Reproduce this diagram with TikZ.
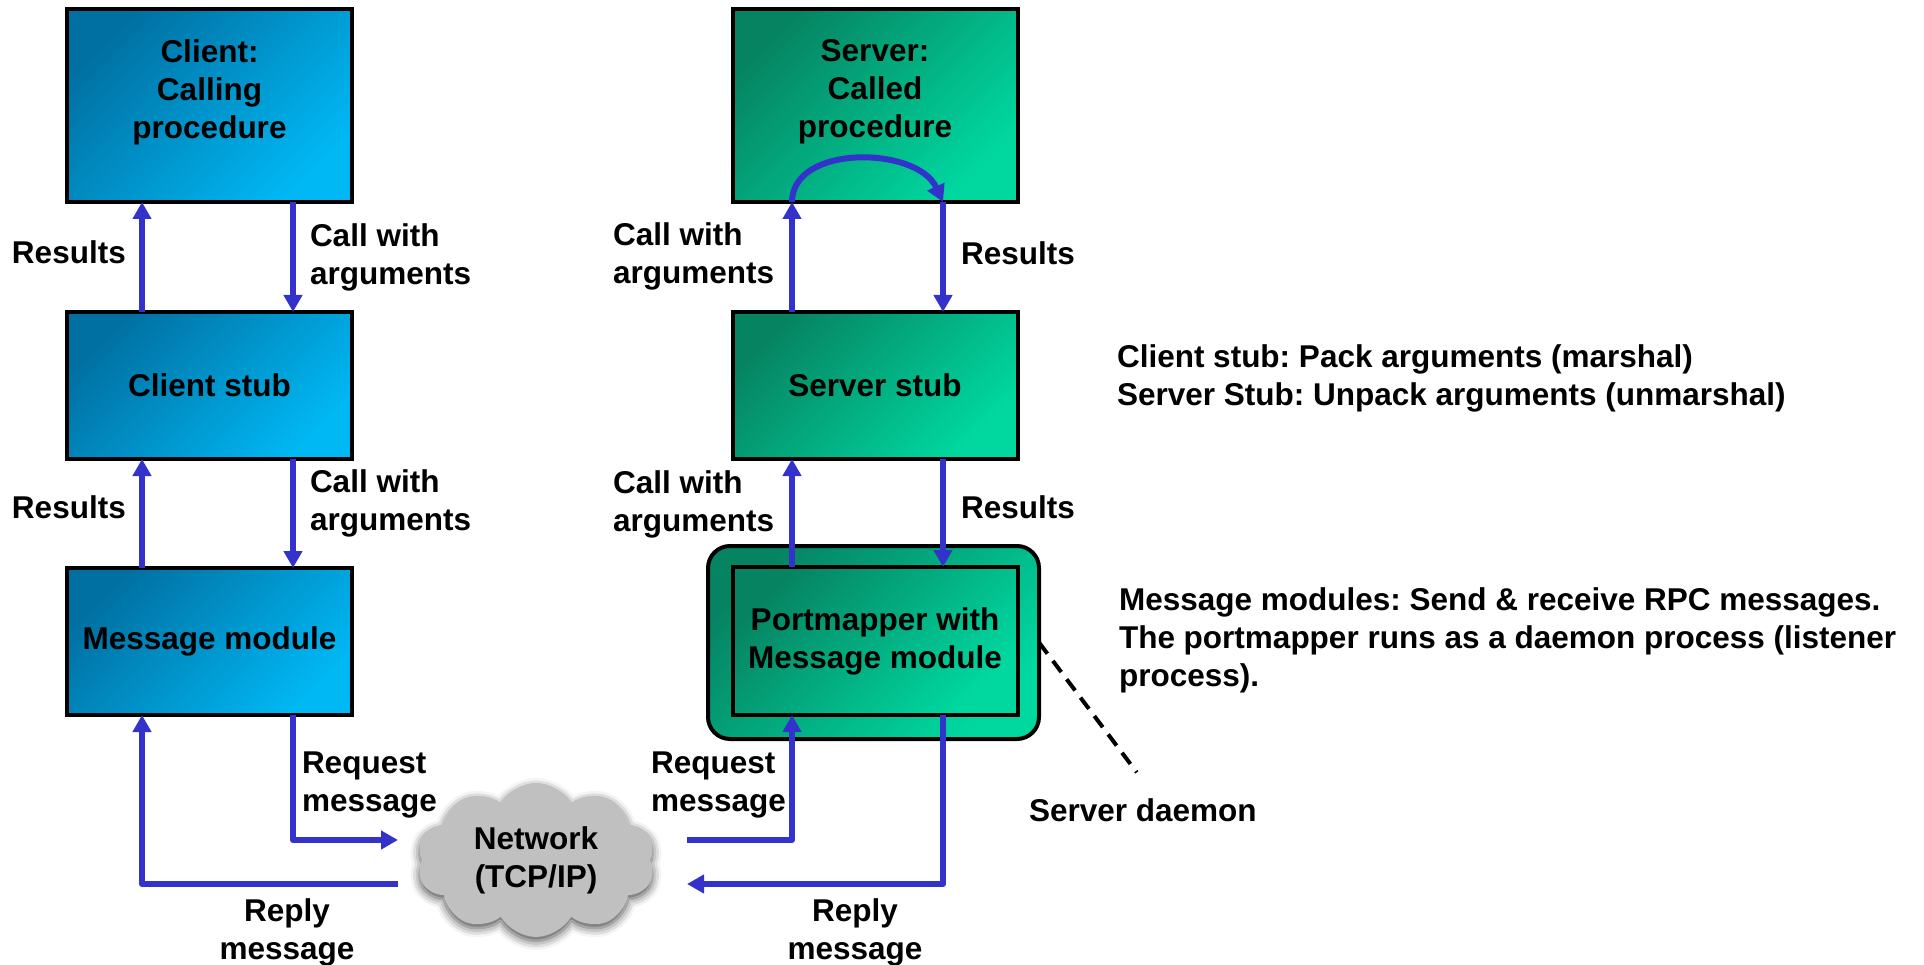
\documentclass[tikz,border=0pt]{standalone}
\usepackage{fontspec}
\setmainfont{Liberation Sans}
\frenchspacing
\newcommand*{\rpcfont}{\bfseries\fontsize{31.5}{38}\selectfont}
\definecolor{CD}{RGB}{0,112,162}
\definecolor{CL}{RGB}{0,184,244}
\definecolor{SD}{RGB}{6,132,98}
\definecolor{SL}{RGB}{0,216,160}
\definecolor{A}{RGB}{51,51,204}
\definecolor{N}{RGB}{192,192,192}
\usepackage{tikz}
\usetikzlibrary{arrows.meta}
\usetikzlibrary{positioning}
\usetikzlibrary{shapes.symbols}
\usetikzlibrary{shadows.blur}
\tikzstyle{base}=[x=1pt, y=-1pt, inner sep=0pt, outer sep=0pt]
\tikzstyle{box}=[draw=black, line width=4pt, minimum width=285pt, align=center]
\tikzstyle{cbox}=[box, top color=CD, bottom color=CL, shading angle=45]
\tikzstyle{sbox}=[box, top color=SD, bottom color=SL, shading angle=45]
\tikzstyle{arr}=[draw=A, line width=6pt, line join=round, -{Triangle[width=18pt,length=17pt]}]
\tikzstyle{lbl}=[anchor=west, align=left]

\begin{document}
\begin{tikzpicture}[base]
    \rpcfont
    \path [use as bounding box] (0,0) rectangle (1924,965);
    % client side
    \node [cbox, minimum height=193pt] (client) at (209.5,105.5) {};
    \node [align=center] (clienttxt) at (209.5,92) {Client:\\Calling\\procedure};
    \node [cbox, minimum height=147pt] (cstub) at (209.5,385.5) {Client stub};
    \node [cbox, minimum height=147pt] (cmsg) at (209.5,641.5) {Message module};
    % server side
    \node [sbox, minimum height=193pt] (server) at (875,105.5) {};
    \node [align=center] (servertxt) at (875,92) {Server:\\Called\\procedure};
    \node [sbox, minimum height=147pt] (sstub) at (875,385.5) {Server stub};
    \node [sbox, minimum width=331pt, minimum height=193pt, rounded corners=22pt] (daemon) at (873.5,642.5) {};
    \node [sbox, minimum height=148pt] (pmap) at (875,641) {Portmapper with\\Message module};
    % network
    \node [cloud, cloud puffs=10, cloud puff arc=120, aspect=1.5, fill=N, minimum width=238pt, minimum height=154pt,
           blur shadow={shadow xshift=0pt, shadow yshift=-4pt, shadow blur radius=9pt, shadow opacity=70},
           align=center] (net) at (536,860) {Network\\(TCP/IP)};

    % client arrows
    \draw [arr] ([xshift=-67.5pt]cstub.north) -- ([xshift=-67.5pt]client.south);
    \draw [arr] ([xshift=83.5pt]client.south) -- ([xshift=83.5pt]cstub.north);
    \draw [arr] ([xshift=-67.5pt]cmsg.north) -- ([xshift=-67.5pt]cstub.south);
    \draw [arr] ([xshift=83.5pt]cstub.south) -- ([xshift=83.5pt]cmsg.north);
    \draw [arr] ([xshift=83.5pt]cmsg.south) |- ([xshift=-138pt,yshift=20pt]net.center);
    \draw [arr] ([xshift=-138pt,yshift=-24pt]net.center) -| ([xshift=-67.5pt]cmsg.south);
    % server arrows
    \draw [arr] ([xshift=-83pt]sstub.north) -- ([xshift=-83pt]server.south);
    \draw [arr] ([xshift=-83pt]server.south) .. controls +(0,-58) and +(-26,-56) .. ([xshift=68pt]server.south);
    \draw [arr] ([xshift=68pt]server.south) -- ([xshift=68pt]sstub.north);
    \draw [arr] ([xshift=-83pt]pmap.north) -- ([xshift=-83pt]sstub.south);
    \draw [arr] ([xshift=68pt]sstub.south) -- ([xshift=68pt]pmap.north);
    \draw [arr] ([xshift=151pt,yshift=20pt]net.center) -| ([xshift=-83pt]pmap.south);
    \draw [arr] ([xshift=68pt]pmap.south) |- ([xshift=151pt,yshift=-24pt]net.center);

    % labels
    \node [lbl] (res1) at (12,252) {Results};
    \node [lbl] (call1) at (310,257) {Call with\\arguments};
    \node [lbl] (res2) at (12,507) {Results};
    \node [lbl] (call2) at (310,503) {Call with\\arguments};
    \node [lbl] (call3) at (613,256) {Call with\\arguments};
    \node [lbl] (res3) at (961,253) {Results};
    \node [lbl] (call4) at (613,504) {Call with\\arguments};
    \node [lbl] (res4) at (961,507) {Results};
    \node [lbl] (req1) at (302,785) {Request\\message};
    \node [lbl] (req2) at (651,785) {Request\\message};
    \node [align=center] (rep1) at (287,932) {Reply\\message};
    \node [align=center] (rep2) at (855,932) {Reply\\message};
    \node [lbl] (sdaemon) at (1029,810) {Server daemon};
    \draw [black, line width=4pt, dash pattern=on 14pt off 9pt] (daemon.east) -- ([xshift=-6pt,yshift=26pt]sdaemon.north);

    % notes
    \node [lbl] (note1) at (1117,378) {Client stub: Pack arguments (marshal)\\Server Stub: Unpack arguments (unmarshal)};
    \node [lbl] (note2) at (1119,640) {Message modules: Send \& receive RPC messages.\\The portmapper runs as a daemon process (listener\\process).};
\end{tikzpicture}
\end{document}
